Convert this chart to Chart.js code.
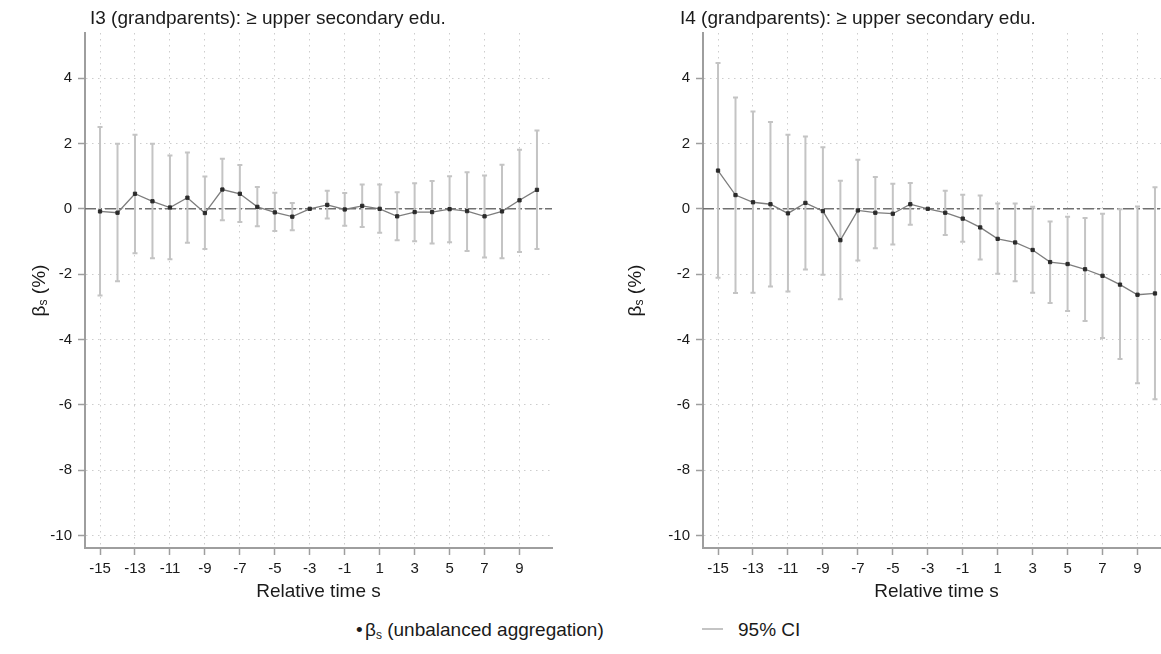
<!DOCTYPE html>
<html>
<head>
<meta charset="utf-8">
<script src="https://cdn.jsdelivr.net/npm/chart.js@4.4.1/dist/chart.umd.min.js"></script>
<style>
  html, body {
    margin: 0;
    padding: 0;
    background: #fff;
    width: 1161px;
    height: 654px;
    overflow: hidden;
    position: relative;
    font-family: "Liberation Sans", Arial, sans-serif;
  }
  canvas { position: absolute; top: 0; }
  #leftPanel { left: 0; }
  #rightPanel { left: 618px; }
  .legend {
    position: absolute;
    top: 620px;
    font-size: 19px;
    line-height: 19px;
    color: #1a1a1a;
    white-space: nowrap;
  }
  .legend .sub { font-size: 12px; position: relative; top: 3px; }
  .ci-key {
    position: absolute;
    left: 702px;
    top: 628px;
    width: 21px;
    height: 2px;
    background: #c4c4c4;
  }
</style>
</head>
<body>
<canvas id="leftPanel" width="580" height="610"></canvas>
<canvas id="rightPanel" width="580" height="610"></canvas>

<div class="legend" style="left: 356px;">&bull;</div>
<div class="legend" style="left: 365px;">β<span class="sub">s</span> (unbalanced aggregation)</div>
<div class="ci-key"></div>
<div class="legend" style="left: 738px;">95% CI</div>

<script>
// relative time s (x)
const relTime = [-15, -14, -13, -12, -11, -10, -9, -8, -7, -6, -5, -4, -3,
  -2, -1, 0, 1, 2, 3, 4, 5, 6, 7, 8, 9, 10];

// tick labels
const xTicks = [-15, -13, -11, -9, -7, -5, -3, -1, 1, 3, 5, 7, 9];
const yTicks = [-10, -8, -6, -4, -2, 0, 2, 4];

// I3 panel: estimates and 95% CI (s = -3 is the reference period)
const coefI3 = [-0.08, -0.12, 0.46, 0.23, 0.04, 0.34, -0.13, 0.59, 0.46, 0.06, -0.11, -0.24, 0,
  0.12, -0.02, 0.09, 0.0, -0.23, -0.10, -0.10, -0.01, -0.07, -0.23, -0.08, 0.26, 0.58];
const loI3 = [-2.65, -2.22, -1.36, -1.51, -1.54, -1.04, -1.23, -0.35, -0.40, -0.53, -0.68, -0.66, null,
  -0.30, -0.52, -0.56, -0.73, -0.96, -0.99, -1.06, -1.02, -1.29, -1.49, -1.51, -1.32, -1.23];
const hiI3 = [2.50, 1.99, 2.27, 1.99, 1.63, 1.72, 0.99, 1.53, 1.34, 0.67, 0.49, 0.18, null,
  0.55, 0.48, 0.74, 0.74, 0.51, 0.78, 0.85, 1.00, 1.12, 1.02, 1.35, 1.81, 2.40];

// I4 panel
const coefI4 = [1.17, 0.42, 0.20, 0.14, -0.14, 0.18, -0.07, -0.96, -0.05, -0.12, -0.15, 0.14, 0,
  -0.12, -0.30, -0.57, -0.92, -1.03, -1.26, -1.63, -1.69, -1.85, -2.05, -2.32, -2.63, -2.59];
const loI4 = [-2.11, -2.58, -2.57, -2.38, -2.53, -1.86, -2.02, -2.77, -1.58, -1.21, -1.09, -0.49, null,
  -0.80, -1.01, -1.55, -1.99, -2.22, -2.57, -2.88, -3.13, -3.43, -3.95, -4.60, -5.34, -5.83];
const hiI4 = [4.46, 3.41, 2.98, 2.66, 2.27, 2.21, 1.88, 0.86, 1.50, 0.97, 0.77, 0.79, null,
  0.55, 0.43, 0.41, 0.16, 0.16, 0.06, -0.39, -0.24, -0.28, -0.15, -0.01, 0.07, 0.66];

const FONT = '"Liberation Sans", Arial, sans-serif';
const AXIS_GREY = "#9e9e9e";
const TEXT = "#1a1a1a";

// draws the zero line, CI bars and the titles
function makeDecor(panel) {
  return {
    id: "panelDecor",
    beforeDatasetsDraw(chart) {
      const { ctx, chartArea, scales } = chart;
      const x = scales.x;
      const y = scales.y;
      ctx.save();
      ctx.beginPath();
      ctx.rect(chartArea.left, chartArea.top, chartArea.width, chartArea.height);
      ctx.clip();

      // dashed reference line at 0
      const y0 = y.getPixelForValue(0);
      ctx.strokeStyle = "#707070";
      ctx.lineWidth = 1.4;
      ctx.setLineDash([11, 3, 3, 3]);
      ctx.beginPath();
      ctx.moveTo(chartArea.left, y0);
      ctx.lineTo(chartArea.right, y0);
      ctx.stroke();
      ctx.setLineDash([]);

      // 95% CI
      ctx.strokeStyle = "#c4c4c4";
      ctx.lineWidth = 2;
      relTime.forEach((t, i) => {
        if (panel.lo[i] == null) return;
        const px = x.getPixelForValue(t);
        const top = y.getPixelForValue(panel.hi[i]);
        const bot = y.getPixelForValue(panel.lo[i]);
        ctx.beginPath();
        ctx.moveTo(px, top);
        ctx.lineTo(px, bot);
        ctx.moveTo(px - 2.5, top);
        ctx.lineTo(px + 2.5, top);
        ctx.moveTo(px - 2.5, bot);
        ctx.lineTo(px + 2.5, bot);
        ctx.stroke();
      });
      ctx.restore();
    },
    afterDraw(chart) {
      const { ctx, chartArea } = chart;
      ctx.save();
      ctx.fillStyle = TEXT;
      ctx.textBaseline = "middle";
      ctx.textAlign = "left";
      ctx.font = "19px " + FONT;
      ctx.fillText(panel.title, panel.titleX, 19);

      // y axis title: β with subscript s, rotated
      const midY = (chartArea.top + chartArea.bottom) / 2;
      ctx.translate(panel.yTitleX, midY);
      ctx.rotate(-Math.PI / 2);
      ctx.font = "19px " + FONT;
      const wBeta = ctx.measureText("β").width;
      const wRest = ctx.measureText(" (%)").width;
      ctx.font = "12px " + FONT;
      const wSub = ctx.measureText("s").width;
      let cx = -(wBeta + wSub + wRest) / 2;
      ctx.font = "19px " + FONT;
      ctx.fillText("β", cx, 0);
      cx += wBeta;
      ctx.font = "12px " + FONT;
      ctx.fillText("s", cx, 4);
      cx += wSub;
      ctx.font = "19px " + FONT;
      ctx.fillText(" (%)", cx, 0);
      ctx.restore();
    },
  };
}

function buildChart(canvasId, panel) {
  const points = relTime.map((t, i) => ({ x: t, y: panel.coef[i] }));
  return new Chart(document.getElementById(canvasId), {
    type: "line",
    data: {
      datasets: [
        {
          data: points,
          borderColor: "#7d7d7d",
          borderWidth: 1.3,
          tension: 0,
          pointStyle: "rect",
          pointRadius: 2.3,
          pointBackgroundColor: "#2b2b2b",
          pointBorderColor: "#2b2b2b",
          pointBorderWidth: 1,
        },
      ],
    },
    options: {
      responsive: false,
      animation: false,
      events: [],
      layout: { padding: { top: 33, right: 28, bottom: 0, left: 0 } },
      plugins: {
        legend: { display: false },
        tooltip: { enabled: false },
      },
      scales: {
        x: {
          type: "linear",
          min: -15.86,
          max: 10.86,
          afterBuildTicks: (s) => { s.ticks = xTicks.map((v) => ({ value: v })); },
          afterFit: (s) => { s.height = 62; },
          border: { display: true, color: AXIS_GREY, width: 2, dash: [1.5, 4.5] },
          grid: {
            color: "#cdcdcd",
            lineWidth: 1,
            tickLength: 7,
            tickColor: AXIS_GREY,
            tickWidth: 1.5,
            tickBorderDash: [],
          },
          ticks: {
            font: { family: FONT, size: 15 },
            color: TEXT,
            padding: 5,
            maxRotation: 0,
            autoSkip: false,
            callback: (v) => String(v),
          },
          title: {
            display: true,
            text: "Relative time s",
            font: { family: FONT, size: 19 },
            color: TEXT,
            padding: { top: 0, bottom: 7 },
          },
        },
        y: {
          min: -10.38,
          max: 5.38,
          afterBuildTicks: (s) => { s.ticks = yTicks.map((v) => ({ value: v })); },
          afterFit: (s) => { s.width = 85; },
          border: { display: true, color: AXIS_GREY, width: 2, dash: [1.5, 4.5] },
          grid: {
            color: "#cdcdcd",
            lineWidth: 1,
            tickLength: 7,
            tickColor: AXIS_GREY,
            tickWidth: 1.5,
            tickBorderDash: [],
          },
          ticks: {
            font: { family: FONT, size: 15 },
            color: TEXT,
            padding: 6,
            autoSkip: false,
            callback: (v) => String(v),
          },
        },
      },
    },
    plugins: [makeDecor(panel)],
  });
}

buildChart("leftPanel", {
  title: "I3 (grandparents): ≥ upper secondary edu.",
  coef: coefI3,
  lo: loI3,
  hi: hiI3,
  titleX: 90,
  yTitleX: 40,
});

buildChart("rightPanel", {
  title: "I4 (grandparents): ≥ upper secondary edu.",
  coef: coefI4,
  lo: loI4,
  hi: hiI4,
  titleX: 62,
  yTitleX: 18,
});
</script>
</body>
</html>
